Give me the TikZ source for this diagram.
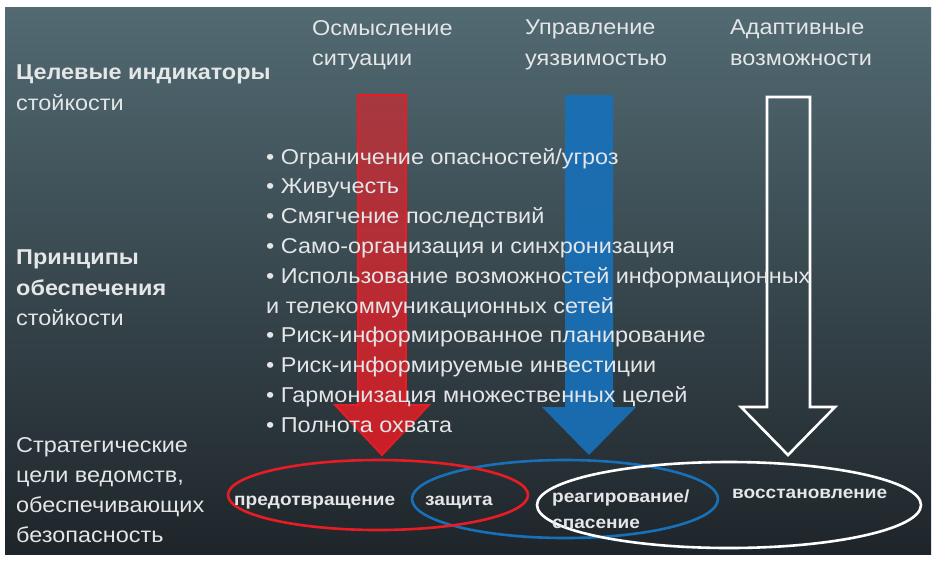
\documentclass[tikz,border=0pt]{standalone}
\usepackage{fontspec}
\setmainfont{Liberation Sans}[FakeStretch=1.09]
\usepackage{tikz}
\usetikzlibrary{shapes.geometric}

\definecolor{fg}{RGB}{228,230,232}
\definecolor{bgtop}{RGB}{82,106,114}
\definecolor{bgbot}{RGB}{30,37,42}
\definecolor{redline}{RGB}{232,28,36}
\definecolor{redfill}{RGB}{200,40,48}
\definecolor{bluefill}{RGB}{24,112,184}

\tikzset{
    hd/.style={text=fg, font=\fontsize{21.5}{30.5}\selectfont, align=left, inner sep=0pt, anchor=north west},
    goal/.style={text=fg, font=\bfseries\fontsize{17.5}{26}\selectfont, align=left, inner sep=0pt, anchor=base west},
    ring/.style={ellipse, line width=2.6pt, inner sep=0pt}
}

\begin{document}
\begin{tikzpicture}[x=1pt, y=-1pt]
    \useasboundingbox (0, 0) rectangle (935, 563);
    \fill[white] (0, 0) rectangle (935, 563);
    \shade[top color=bgtop, bottom color=bgbot] (5, 7) rectangle (931, 554);

    % big arrows
    \shade[top color=redfill!85!bgtop, bottom color=redline, draw=redline, line width=1.8pt, fill opacity=0.85]
        (358, 95) -- (406, 95) -- (406, 405) -- (429, 405) -- (382, 455) -- (335, 405) -- (358, 405) -- cycle;
    \fill[bluefill, fill opacity=0.92]
        (565, 95) -- (613, 95) -- (613, 407) -- (636, 407) -- (589, 455) -- (542, 407) -- (565, 407) -- cycle;
    \draw[white, line width=2.6pt, line join=miter]
        (767, 97) -- (810, 97) -- (810, 407) -- (835, 407) -- (788, 455) -- (741, 407) -- (767, 407) -- cycle;

    % headers
    \node[hd] (osm) at (312, 20) {Осмысление\\ситуации};
    \node[hd] (upr) at (525, 20) {Управление\\уязвимостью};
    \node[hd] (adapt) at (730, 20) {Адаптивные\\возможности};

    % left column
    \node[hd] (indic) at (16, 65) {\textbf{Целевые индикаторы}\\стойкости};
    \node[hd] (princ) at (16, 250) {\textbf{Принципы}\\\textbf{обеспечения}\\стойкости};
    \node[hd, font=\fontsize{21.5}{30}\selectfont] (strat) at (16, 437) {Стратегические\\цели ведомств,\\обеспечивающих\\безопасность};

    % principles
    \node[hd, font=\fontsize{21.5}{29.8}\selectfont] (plist) at (266, 148) {%
        • Ограничение опасностей/угроз\\
        • Живучесть\\
        • Смягчение последствий\\
        • Само-организация и синхронизация\\
        • Использование возможностей информационных\\
        и телекоммуникационных сетей\\
        • Риск-информированное планирование\\
        • Риск-информируемые инвестиции\\
        • Гармонизация множественных целей\\
        • Полнота охвата};

    % goals
    \node[ring, draw=bluefill, minimum width=306pt, minimum height=78pt] (eblue) at (565, 499) {};
    \node[ring, draw=redline, minimum width=300pt, minimum height=70pt] (ered) at (378, 495) {};
    \node[ring, draw=white, minimum width=384pt, minimum height=86pt] (ewhite) at (729, 505) {};

    \node[goal] (prev) at (234, 505) {предотвращение};
    \node[goal] (prot) at (425, 505) {защита};
    \node[goal] (resp) at (552, 528) {реагирование/\\спасение};
    \node[goal] (recov) at (732, 498) {восстановление};
\end{tikzpicture}
\end{document}
